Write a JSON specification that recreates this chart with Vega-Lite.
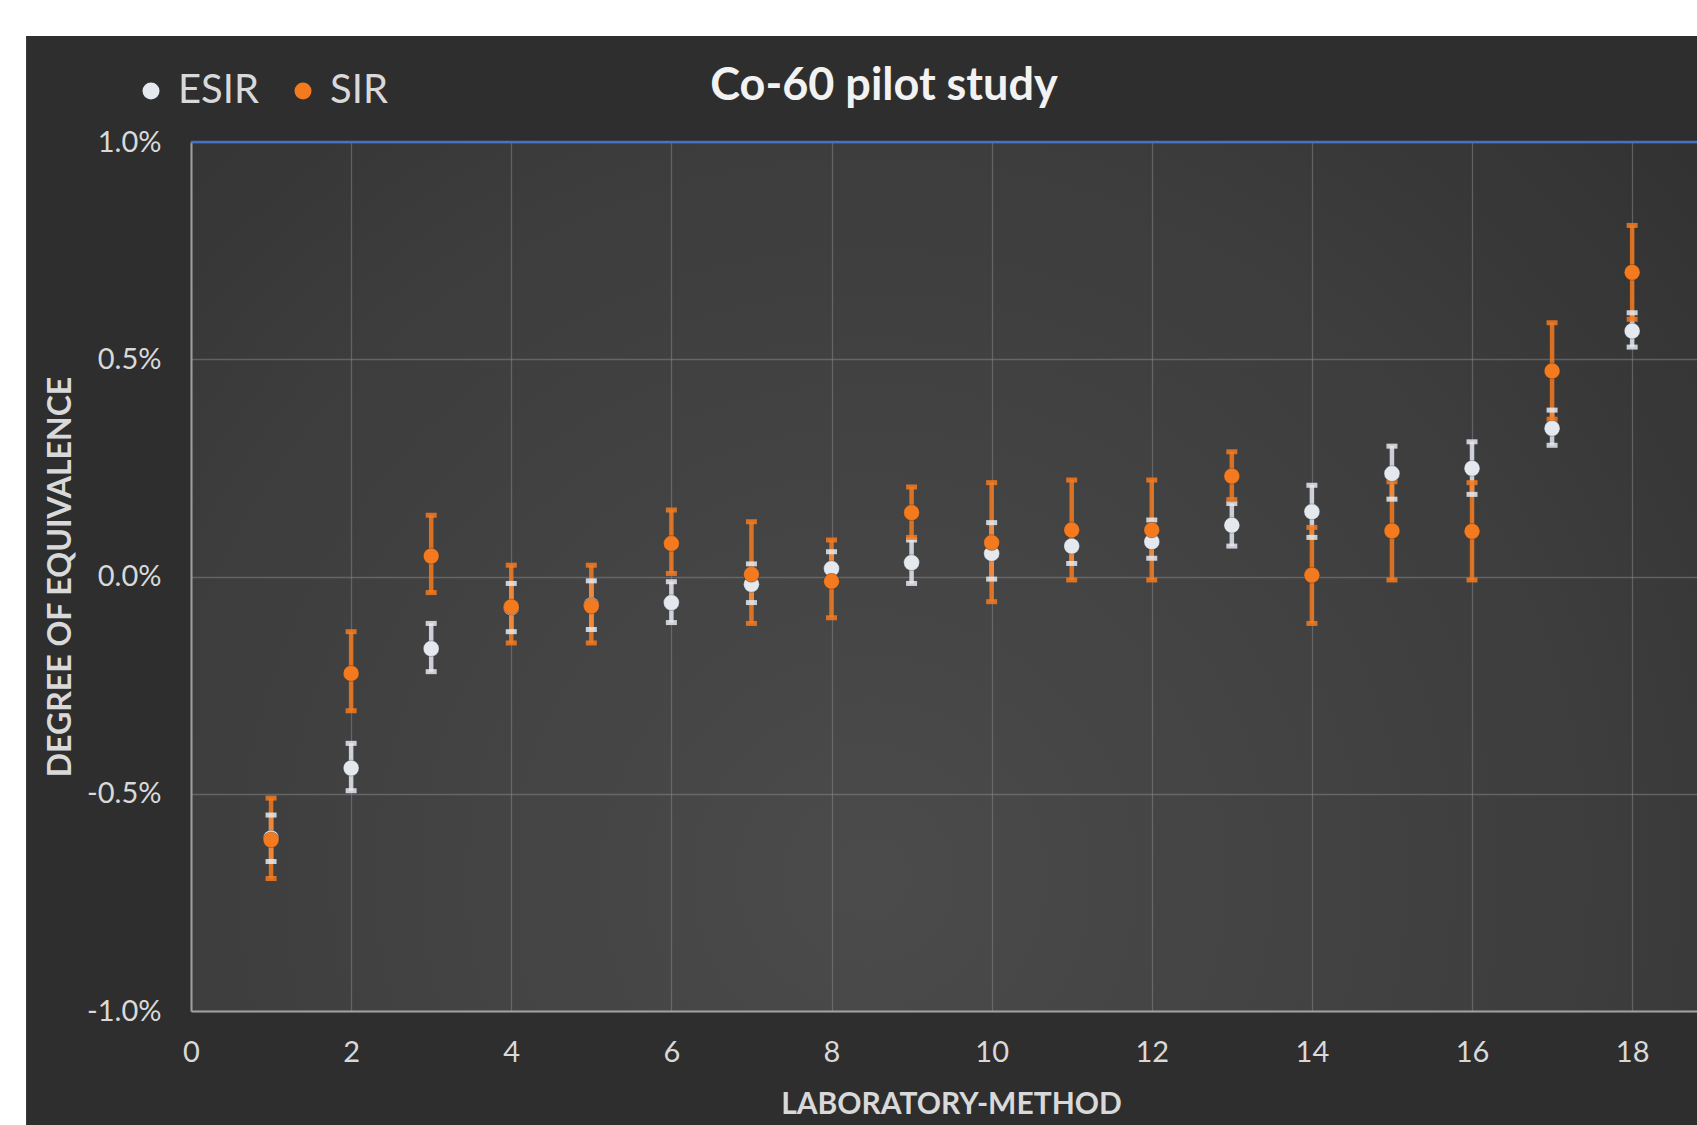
{
  "$schema": "https://vega.github.io/schema/vega-lite/v6.json",
  "width": 1506,
  "height": 869,
  "autosize": {"type": "none"},
  "padding": {"left": 191, "top": 142, "right": 0, "bottom": 114},
  "background": "#2e2e2e",
  "title": {
    "text": "Co-60 pilot study",
    "font": "Lato",
    "fontSize": 45,
    "fontWeight": "bold",
    "color": "#f2f2f2",
    "anchor": "middle",
    "frame": "group",
    "dx": -60,
    "dy": 145,
    "baseline": "alphabetic",
    "offset": 0
  },
  "config": {
    "font": "Lato",
    "view": {
      "stroke": null,
      "fill": {
        "gradient": "radial",
        "x1": 0.45, "y1": 0.7, "r1": 0,
        "x2": 0.45, "y2": 0.7, "r2": 0.8,
        "stops": [
          {"offset": 0, "color": "#4b4b4b"},
          {"offset": 0.6, "color": "#3d3d3d"},
          {"offset": 1, "color": "#2f2f2f"}
        ]
      }
    },
    "axis": {
      "labelFont": "Lato",
      "titleFont": "Lato",
      "labelColor": "#d9d9d9",
      "titleColor": "#d9d9d9",
      "labelFontSize": 29,
      "titleFontSize": 30,
      "titleFontWeight": "bold",
      "domainColor": "#a0a0a0",
      "domainWidth": 2,
      "ticks": false,
      "tickSize": 0,
      "grid": true,
      "gridColor": "#8a8a8a",
      "gridOpacity": 0.5,
      "gridWidth": 1.3,
      "labelPadding": 30,
      "labelFlush": false,
      "labelOverlap": false
    }
  },
  "data": {
    "values": [
      {"method": "ESIR", "lab": 1, "value": -0.602, "lo": -0.656, "hi": -0.549},
      {"method": "ESIR", "lab": 2, "value": -0.441, "lo": -0.493, "hi": -0.384},
      {"method": "ESIR", "lab": 3, "value": -0.166, "lo": -0.219, "hi": -0.108},
      {"method": "ESIR", "lab": 4, "value": -0.072, "lo": -0.127, "hi": -0.016},
      {"method": "ESIR", "lab": 5, "value": -0.066, "lo": -0.122, "hi": -0.010},
      {"method": "ESIR", "lab": 6, "value": -0.060, "lo": -0.106, "hi": -0.012},
      {"method": "ESIR", "lab": 7, "value": -0.018, "lo": -0.060, "hi": 0.029},
      {"method": "ESIR", "lab": 8, "value": 0.018, "lo": -0.018, "hi": 0.057},
      {"method": "ESIR", "lab": 9, "value": 0.032, "lo": -0.016, "hi": 0.084},
      {"method": "ESIR", "lab": 10, "value": 0.053, "lo": -0.006, "hi": 0.124},
      {"method": "ESIR", "lab": 11, "value": 0.070, "lo": 0.030, "hi": 0.112},
      {"method": "ESIR", "lab": 12, "value": 0.080, "lo": 0.042, "hi": 0.130},
      {"method": "ESIR", "lab": 13, "value": 0.118, "lo": 0.070, "hi": 0.168},
      {"method": "ESIR", "lab": 14, "value": 0.149, "lo": 0.090, "hi": 0.210},
      {"method": "ESIR", "lab": 15, "value": 0.237, "lo": 0.178, "hi": 0.300},
      {"method": "ESIR", "lab": 16, "value": 0.249, "lo": 0.189, "hi": 0.310},
      {"method": "ESIR", "lab": 17, "value": 0.341, "lo": 0.302, "hi": 0.383},
      {"method": "ESIR", "lab": 18, "value": 0.565, "lo": 0.528, "hi": 0.607},
      {"method": "SIR", "lab": 1, "value": -0.606, "lo": -0.695, "hi": -0.510},
      {"method": "SIR", "lab": 2, "value": -0.223, "lo": -0.309, "hi": -0.127},
      {"method": "SIR", "lab": 3, "value": 0.047, "lo": -0.037, "hi": 0.141},
      {"method": "SIR", "lab": 4, "value": -0.070, "lo": -0.153, "hi": 0.026},
      {"method": "SIR", "lab": 5, "value": -0.068, "lo": -0.153, "hi": 0.026},
      {"method": "SIR", "lab": 6, "value": 0.076, "lo": 0.007, "hi": 0.153},
      {"method": "SIR", "lab": 7, "value": 0.005, "lo": -0.108, "hi": 0.126},
      {"method": "SIR", "lab": 8, "value": -0.011, "lo": -0.095, "hi": 0.084},
      {"method": "SIR", "lab": 9, "value": 0.147, "lo": 0.090, "hi": 0.206},
      {"method": "SIR", "lab": 10, "value": 0.078, "lo": -0.058, "hi": 0.216},
      {"method": "SIR", "lab": 11, "value": 0.107, "lo": -0.008, "hi": 0.222},
      {"method": "SIR", "lab": 12, "value": 0.107, "lo": -0.008, "hi": 0.222},
      {"method": "SIR", "lab": 13, "value": 0.231, "lo": 0.177, "hi": 0.287},
      {"method": "SIR", "lab": 14, "value": 0.003, "lo": -0.108, "hi": 0.113},
      {"method": "SIR", "lab": 15, "value": 0.105, "lo": -0.008, "hi": 0.218},
      {"method": "SIR", "lab": 16, "value": 0.104, "lo": -0.008, "hi": 0.216},
      {"method": "SIR", "lab": 17, "value": 0.473, "lo": 0.362, "hi": 0.584},
      {"method": "SIR", "lab": 18, "value": 0.700, "lo": 0.592, "hi": 0.808}
    ]
  },
  "layer": [
    {
      "data": {"values": [{}]},
      "mark": {"type": "rect", "color": "#ffffff"},
      "encoding": {
        "x": {"datum": -2.39, "type": "quantitative", "scale": {"domain": [0, 18.81], "nice": false, "zero": false}},
        "x2": {"datum": -2.06},
        "y": {"datum": -1.6, "type": "quantitative", "scale": {"domain": [-1, 1], "nice": false, "zero": false}},
        "y2": {"datum": 1.327}
      }
    },
    {
      "data": {"values": [{}]},
      "mark": {"type": "rect", "color": "#ffffff"},
      "encoding": {
        "x": {"datum": -2.39, "type": "quantitative", "scale": {"domain": [0, 18.81], "nice": false, "zero": false}},
        "x2": {"datum": 20},
        "y": {"datum": 1.244, "type": "quantitative", "scale": {"domain": [-1, 1], "nice": false, "zero": false}},
        "y2": {"datum": 1.327}
      }
    },
    {
      "data": {"values": [{}]},
      "mark": {"type": "rule", "color": "#4472c4", "strokeWidth": 2.5},
      "encoding": {
        "y": {"datum": 1, "type": "quantitative", "scale": {"domain": [-1, 1], "nice": false, "zero": false}}
      }
    },
    {
      "transform": [{"filter": "datum.method === 'ESIR'"}],
      "mark": {"type": "rule", "color": "#e4e9f0", "strokeWidth": 4.5, "opacity": 0.85},
      "encoding": {
        "x": {"field": "lab", "type": "quantitative"},
        "y": {"field": "lo", "type": "quantitative"},
        "y2": {"field": "hi"}
      }
    },
    {
      "transform": [{"filter": "datum.method === 'SIR'"}],
      "mark": {"type": "rule", "color": "#f47a20", "strokeWidth": 4.5, "opacity": 0.85},
      "encoding": {
        "x": {"field": "lab", "type": "quantitative"},
        "y": {"field": "lo", "type": "quantitative"},
        "y2": {"field": "hi"}
      }
    },
    {
      "transform": [{"filter": "datum.method === 'ESIR'"}],
      "mark": {"type": "tick", "orient": "horizontal", "color": "#e4e9f0", "size": 11, "thickness": 5, "opacity": 0.85},
      "encoding": {
        "x": {"field": "lab", "type": "quantitative"},
        "y": {"field": "lo", "type": "quantitative"}
      }
    },
    {
      "transform": [{"filter": "datum.method === 'ESIR'"}],
      "mark": {"type": "tick", "orient": "horizontal", "color": "#e4e9f0", "size": 11, "thickness": 5, "opacity": 0.85},
      "encoding": {
        "x": {"field": "lab", "type": "quantitative"},
        "y": {"field": "hi", "type": "quantitative"}
      }
    },
    {
      "transform": [{"filter": "datum.method === 'SIR'"}],
      "mark": {"type": "tick", "orient": "horizontal", "color": "#f47a20", "size": 11, "thickness": 5, "opacity": 0.85},
      "encoding": {
        "x": {"field": "lab", "type": "quantitative"},
        "y": {"field": "lo", "type": "quantitative"}
      }
    },
    {
      "transform": [{"filter": "datum.method === 'SIR'"}],
      "mark": {"type": "tick", "orient": "horizontal", "color": "#f47a20", "size": 11, "thickness": 5, "opacity": 0.85},
      "encoding": {
        "x": {"field": "lab", "type": "quantitative"},
        "y": {"field": "hi", "type": "quantitative"}
      }
    },
    {
      "mark": {"type": "circle", "size": 250, "opacity": 1, "stroke": "#1e1e1e", "strokeWidth": 1, "strokeOpacity": 0.3},
      "encoding": {
        "x": {
          "field": "lab",
          "type": "quantitative",
          "scale": {"domain": [0, 18.81], "nice": false, "zero": false},
          "axis": {
            "values": [0, 2, 4, 6, 8, 10, 12, 14, 16, 18],
            "format": "d",
            "labelPadding": 27,
            "title": "LABORATORY-METHOD",
            "titlePadding": 22,
            "titleX": 760
          }
        },
        "y": {
          "field": "value",
          "type": "quantitative",
          "scale": {"domain": [-1, 1], "nice": false, "zero": false},
          "axis": {
            "values": [-1, -0.5, 0, 0.5, 1],
            "labelExpr": "(datum.value < 0 ? '-' : '') + format(abs(datum.value), '.1f') + '%'",
            "title": "DEGREE OF EQUIVALENCE",
            "titleFontSize": 32,
            "titleAngle": -90,
            "titleX": -121,
            "titleY": 434.5,
            "titleAlign": "center",
            "titleBaseline": "alphabetic"
          }
        },
        "color": {
          "field": "method",
          "type": "nominal",
          "scale": {"domain": ["ESIR", "SIR"], "range": ["#e4e9f0", "#f47a20"]},
          "legend": {
            "orient": "none",
            "legendX": -60,
            "legendY": -71,
            "direction": "horizontal",
            "title": null,
            "symbolType": "circle",
            "symbolSize": 290,
            "symbolStrokeWidth": 0,
            "labelFont": "Lato",
            "labelFontSize": 40,
            "labelColor": "#d9d9d9",
            "labelOffset": 7,
            "columnPadding": 23,
            "padding": 0
          }
        }
      }
    }
  ]
}
